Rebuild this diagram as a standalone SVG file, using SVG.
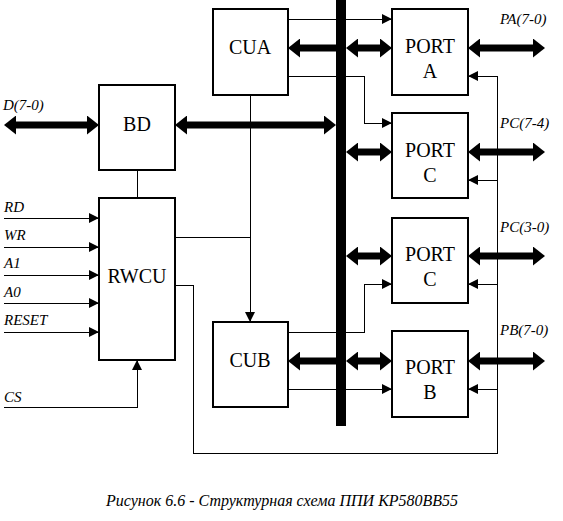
<svg xmlns="http://www.w3.org/2000/svg" width="563" height="521" viewBox="0 0 563 521">
<style>
.box{fill:#fff;stroke:#000;stroke-width:2}
.t{font-family:"Liberation Serif","Times New Roman",serif;font-size:20px;fill:#000;text-anchor:middle}
.l{font-family:"Liberation Serif","Times New Roman",serif;font-size:15px;font-style:italic;fill:#000}
.thin{fill:none;stroke:#000;stroke-width:1;shape-rendering:crispEdges}
.thick{fill:none;stroke:#000;stroke-width:7}
</style>
<defs>
<marker id="ah" markerUnits="userSpaceOnUse" markerWidth="10" markerHeight="10" refX="10" refY="5" orient="auto-start-reverse"><path d="M0,0 L10,5 L0,10 z" fill="#000"/></marker>
<marker id="th" markerUnits="userSpaceOnUse" markerWidth="12" markerHeight="19" refX="2" refY="9.5" orient="auto-start-reverse"><path d="M0,0 L12,9.5 L0,19 z" fill="#000"/></marker>
</defs>
<rect id="bus" x="336" y="0" width="10" height="426" fill="#000"/>
<g id="connectors">
<line class="thick" x1="14" y1="125" x2="89" y2="125" marker-start="url(#th)" marker-end="url(#th)"/>
<line class="thick" x1="185" y1="125" x2="326" y2="125" marker-start="url(#th)" marker-end="url(#th)"/>
<line class="thick" x1="298" y1="48" x2="336" y2="48" marker-start="url(#th)"/>
<line class="thick" x1="356" y1="48" x2="382" y2="48" marker-start="url(#th)" marker-end="url(#th)"/>
<line class="thick" x1="478" y1="48" x2="535" y2="48" marker-start="url(#th)" marker-end="url(#th)"/>
<line class="thick" x1="356" y1="152" x2="382" y2="152" marker-start="url(#th)" marker-end="url(#th)"/>
<line class="thick" x1="478" y1="152" x2="535" y2="152" marker-start="url(#th)" marker-end="url(#th)"/>
<line class="thick" x1="356" y1="256" x2="382" y2="256" marker-start="url(#th)" marker-end="url(#th)"/>
<line class="thick" x1="478" y1="256" x2="535" y2="256" marker-start="url(#th)" marker-end="url(#th)"/>
<line class="thick" x1="298" y1="361" x2="336" y2="361" marker-start="url(#th)"/>
<line class="thick" x1="356" y1="361" x2="382" y2="361" marker-start="url(#th)" marker-end="url(#th)"/>
<line class="thick" x1="478" y1="361" x2="535" y2="361" marker-start="url(#th)" marker-end="url(#th)"/>
<path class="thin" d="M288,19 H392" marker-end="url(#ah)"/>
<path class="thin" d="M288,76 H364 V123 H392" marker-end="url(#ah)"/>
<path class="thin" d="M250,95 V322" marker-end="url(#ah)"/>
<path class="thin" d="M175,237 H250"/>
<path class="thin" d="M137,170 V198"/>
<path class="thin" d="M175,285 H193 V453 H497 V76 H468" marker-end="url(#ah)"/>
<path class="thin" d="M497,180 H468" marker-end="url(#ah)"/>
<path class="thin" d="M497,284 H468" marker-end="url(#ah)"/>
<path class="thin" d="M497,389 H468" marker-end="url(#ah)"/>
<path class="thin" d="M288,332 H364 V284 H392" marker-end="url(#ah)"/>
<path class="thin" d="M288,389 H392" marker-end="url(#ah)"/>
<path class="thin" d="M4,218 H99" marker-end="url(#ah)"/>
<path class="thin" d="M4,247 H99" marker-end="url(#ah)"/>
<path class="thin" d="M4,275 H99" marker-end="url(#ah)"/>
<path class="thin" d="M4,303 H99" marker-end="url(#ah)"/>
<path class="thin" d="M4,332 H99" marker-end="url(#ah)"/>
<path class="thin" d="M4,407 H137 V360" marker-end="url(#ah)"/>
</g>
<g id="BD"><rect class="box" x="99" y="85" width="76" height="85"/><text class="t" x="137" y="131">BD</text></g>
<g id="RWCU"><rect class="box" x="99" y="198" width="76" height="162"/><text class="t" x="137" y="283">RWCU</text></g>
<g id="CUA"><rect class="box" x="213" y="9" width="75" height="86"/><text class="t" x="250" y="54">CUA</text></g>
<g id="CUB"><rect class="box" x="213" y="322" width="75" height="85"/><text class="t" x="250" y="367">CUB</text></g>
<g id="PORTA"><rect class="box" x="392" y="9" width="76" height="86"/><text class="t" x="430" y="53">PORT</text><text class="t" x="430" y="78">A</text></g>
<g id="PORTC1"><rect class="box" x="392" y="113" width="76" height="85"/><text class="t" x="430" y="157">PORT</text><text class="t" x="430" y="182">C</text></g>
<g id="PORTC2"><rect class="box" x="392" y="218" width="76" height="85"/><text class="t" x="430" y="261">PORT</text><text class="t" x="430" y="286">C</text></g>
<g id="PORTB"><rect class="box" x="392" y="331" width="76" height="86"/><text class="t" x="430" y="374">PORT</text><text class="t" x="430" y="399">B</text></g>
<g id="labels">
<text class="l" x="3" y="110">D(7-0)</text>
<text class="l" x="4" y="212">RD</text>
<text class="l" x="4" y="240">WR</text>
<text class="l" x="4" y="268">A1</text>
<text class="l" x="4" y="297">A0</text>
<text class="l" x="4" y="325">RESET</text>
<text class="l" x="4" y="402">CS</text>
<text class="l" x="500" y="24">PA(7-0)</text>
<text class="l" x="500" y="128">PC(7-4)</text>
<text class="l" x="500" y="232">PC(3-0)</text>
<text class="l" x="500" y="335">PB(7-0)</text>
<text class="l" x="282" y="506" text-anchor="middle" style="font-size:16px">Рисунок 6.6 - Структурная схема ППИ КР580ВВ55</text>
</g>
</svg>
